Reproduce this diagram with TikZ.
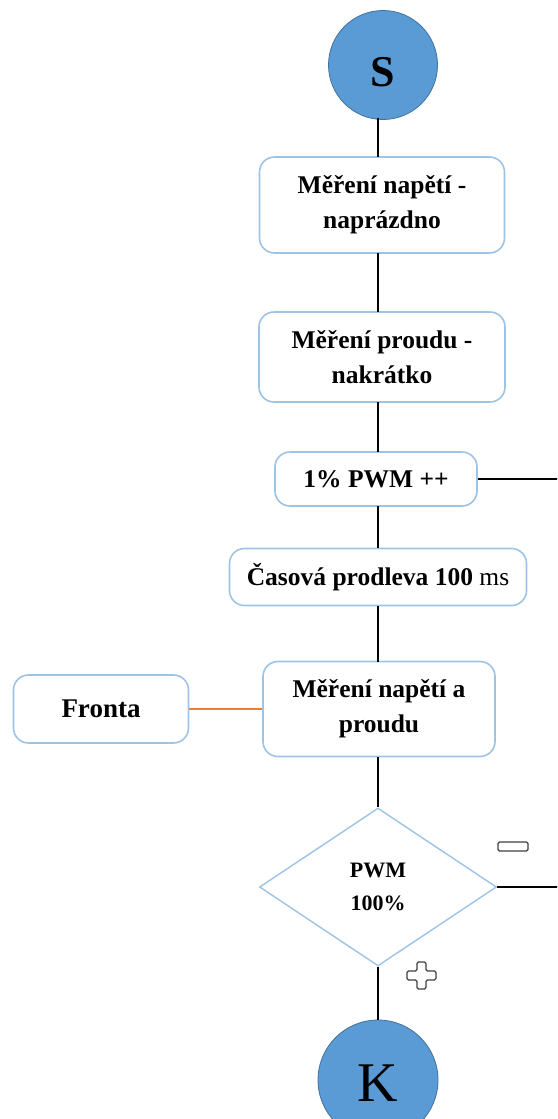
\documentclass[tikz,border=0pt]{standalone}
\usepackage{fontspec}
\setmainfont{Liberation Serif}
\usetikzlibrary{shapes.geometric}
\definecolor{termfill}{HTML}{5B9BD5}
\definecolor{termline}{HTML}{41719C}
\definecolor{boxline}{HTML}{9DC3E6}
\definecolor{frontaline}{HTML}{ED7D31}
\definecolor{signline}{HTML}{404040}
\begin{document}
\begin{tikzpicture}[x=1pt,y=-1pt,
  terminal/.style={circle,fill=termfill,draw=termline,line width=0.8pt,inner sep=0pt},
  stepbox/.style={rectangle,rounded corners=15pt,draw=boxline,line width=1.6pt,fill=white,
    align=center,inner sep=2pt,font=\fontsize{25.5}{35}\selectfont\bfseries},
  decision/.style={diamond,draw=boxline,line width=1.4pt,fill=white,inner sep=0pt,
    align=center,font=\fontsize{22}{33}\selectfont\bfseries},
  flow/.style={line width=2.6pt,black},
  sign/.style={draw=signline,line width=1.3pt,fill=white,rounded corners=1.5pt}]
\useasboundingbox (0,0) rectangle (557,1119);
\clip (0,0) rectangle (557,1119);

% start and end
\node[terminal,minimum size=109pt,
  label={[font=\fontsize{44}{44}\selectfont\bfseries,yshift=-7pt]center:S}] (S) at (383,65) {};
\node[terminal,minimum size=120pt,
  label={[font=\fontsize{56}{56}\selectfont,yshift=-3pt]center:K}] (K) at (378,1080) {};

% process steps
\node[stepbox,minimum width=245pt,minimum height=96pt] (b1) at (382,205) {Měření napětí -\\naprázdno};
\node[stepbox,minimum width=246pt,minimum height=90pt] (b2) at (382,357) {Měření proudu -\\nakrátko};
\node[stepbox,minimum width=202pt,minimum height=54pt] (b3) at (376,479) {1\% PWM ++};
\node[stepbox,minimum width=297pt,minimum height=57pt] (b4) at (378,577) {Časová prodleva 100 \mdseries ms};
\node[stepbox,minimum width=232pt,minimum height=95pt] (b5) at (379,709) {Měření napětí a\\proudu};
\node[stepbox,minimum width=175pt,minimum height=68pt,font=\fontsize{27}{35}\selectfont\bfseries] (fr) at (101,709) {Fronta};

% decision
\node[decision,minimum width=237pt,minimum height=158pt] (d) at (378,887) {PWM\\100\%};

% loose ends leaving to the right
\coordinate (e3) at (560,479);
\coordinate (e4) at (560,887);

% connectors along the main axis
\draw[flow] (378,118) -- (378,157);
\draw[flow] (378,253) -- (378,312);
\draw[flow] (378,402) -- (378,452);
\draw[flow] (378,506) -- (378,548);
\draw[flow] (378,606) -- (378,662);
\draw[flow] (378,757) -- (d.north);
\draw[flow] (d.south) -- (K.north);
\draw[flow] (b3.east) -- (e3);
\draw[flow] (d.east) -- (e4);
\draw[frontaline,line width=1.8pt] (fr.east) -- (b5.west);

% branch signs
\draw[sign] (498,842) rectangle (528,851);
\draw[sign] (417,962) -- (426,962) -- (426,971) -- (436,971) -- (436,980) -- (426,980)
  -- (426,989) -- (417,989) -- (417,980) -- (407,980) -- (407,971) -- (417,971) -- cycle;
\end{tikzpicture}
\end{document}
